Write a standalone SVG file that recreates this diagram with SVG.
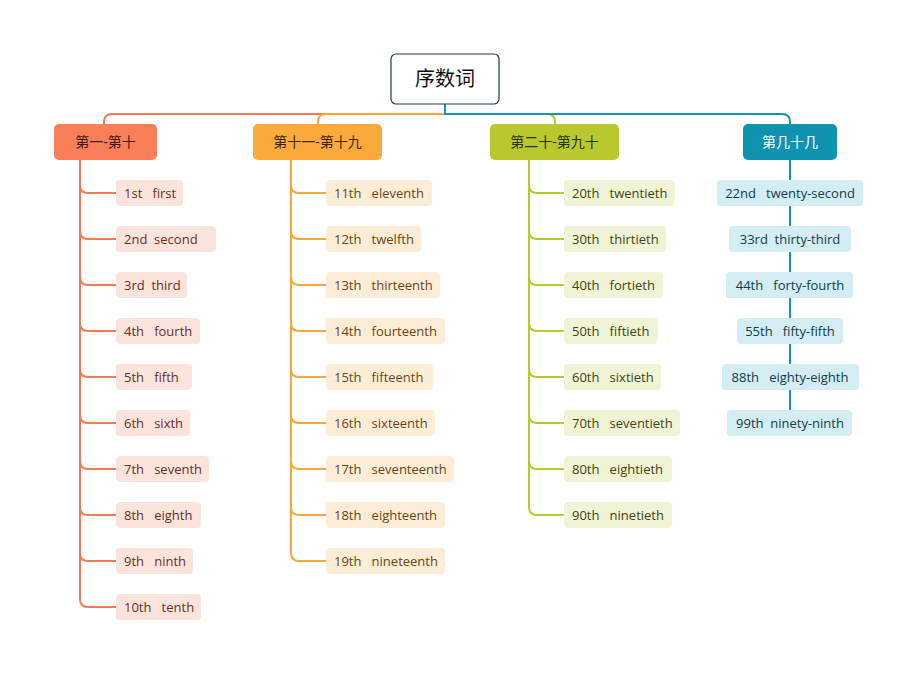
<svg xmlns="http://www.w3.org/2000/svg" width="917" height="675" viewBox="0 0 917 675">
<style>
text{font-family:"Open Sans","Noto Sans CJK SC",sans-serif;font-size:13px;white-space:pre}
.c{fill:none;stroke-width:2}
.b1 rect{fill:#FCE4DD}.b1 text{fill:#6B2E1E}
.b2 rect{fill:#FDEDD6}.b2 text{fill:#6B4414}
.b3 rect{fill:#F0F3D6}.b3 text{fill:#3F4510}
.b4 rect{fill:#D4ECF3}.b4 text{fill:#0F3F4C;text-anchor:middle}
.h text{font-size:14px;text-anchor:middle}
</style>
<rect width="917" height="675" fill="#fff"/>
<g id="connectors">
<path class="c" stroke="#EF7B57" d="M445 104V114H112Q104 114 104 122V124"/>
<path class="c" stroke="#F5A93C" d="M445 114H326Q318 114 318 122V124"/>
<path class="c" stroke="#B9C830" d="M445 114H547Q555 114 555 122V124"/>
<path class="c" stroke="#1A93AF" d="M445 104V114H782Q790 114 790 122V124"/>
<g stroke="#EF7B57" class="c">
<path d="M80 160V599Q80 607 88 607H116"/>
<path d="M80 185Q80 193 88 193H116M80 231Q80 239 88 239H116M80 277Q80 285 88 285H116M80 323Q80 331 88 331H116M80 369Q80 377 88 377H116M80 415Q80 423 88 423H116M80 461Q80 469 88 469H116M80 507Q80 515 88 515H116M80 553Q80 561 88 561H116"/>
</g>
<g stroke="#F5A93C" class="c">
<path d="M291 160V553Q291 561 299 561H326"/>
<path d="M291 185Q291 193 299 193H326M291 231Q291 239 299 239H326M291 277Q291 285 299 285H326M291 323Q291 331 299 331H326M291 369Q291 377 299 377H326M291 415Q291 423 299 423H326M291 461Q291 469 299 469H326M291 507Q291 515 299 515H326"/>
</g>
<g stroke="#B9C830" class="c">
<path d="M529 160V507Q529 515 537 515H564"/>
<path d="M529 185Q529 193 537 193H564M529 231Q529 239 537 239H564M529 277Q529 285 537 285H564M529 323Q529 331 537 331H564M529 369Q529 377 537 377H564M529 415Q529 423 537 423H564M529 461Q529 469 537 469H564"/>
</g>
<path class="c" stroke="#1A93AF" d="M790 160V410"/>
</g>
<g id="root"><rect x="391" y="54" width="108" height="50" rx="5" fill="#fff" stroke="#1F3B5C" stroke-width="1.2"/><text x="445" y="86" text-anchor="middle" style="font-size:20px" fill="#111">序数词</text></g>
<g id="h1" class="h"><rect x="54" y="124" width="103" height="36" rx="5" fill="#F97F58"/><text x="105.5" y="147" fill="#3a1a10">第一-第十</text></g>
<g id="h2" class="h"><rect x="253" y="124" width="129" height="36" rx="5" fill="#F9AA3A"/><text x="317.5" y="147" fill="#3a250a">第十一-第十九</text></g>
<g id="h3" class="h"><rect x="490" y="124" width="129" height="36" rx="5" fill="#B8C82E"/><text x="554.5" y="147" fill="#2a300a">第二十-第九十</text></g>
<g id="h4" class="h"><rect x="743" y="124" width="94" height="36" rx="5" fill="#0F93B1"/><text x="790" y="147" fill="#fff">第几十几</text></g>
<g class="b1">
<g id="n1"><rect x="116" y="180" width="67" height="26" rx="4"/><text x="124" y="198">1st   first</text></g>
<g id="n2"><rect x="116" y="226" width="100" height="26" rx="4"/><text x="124" y="244">2nd  second</text></g>
<g id="n3"><rect x="116" y="272" width="71" height="26" rx="4"/><text x="124" y="290">3rd  third</text></g>
<g id="n4"><rect x="116" y="318" width="84" height="26" rx="4"/><text x="124" y="336">4th   fourth</text></g>
<g id="n5"><rect x="116" y="364" width="76" height="26" rx="4"/><text x="124" y="382">5th   fifth</text></g>
<g id="n6"><rect x="116" y="410" width="74" height="26" rx="4"/><text x="124" y="428">6th   sixth</text></g>
<g id="n7"><rect x="116" y="456" width="93" height="26" rx="4"/><text x="124" y="474">7th   seventh</text></g>
<g id="n8"><rect x="116" y="502" width="85" height="26" rx="4"/><text x="124" y="520">8th   eighth</text></g>
<g id="n9"><rect x="116" y="548" width="77" height="26" rx="4"/><text x="124" y="566">9th   ninth</text></g>
<g id="n10"><rect x="116" y="594" width="85" height="26" rx="4"/><text x="124" y="612">10th   tenth</text></g>
</g>
<g class="b2">
<g id="n11"><rect x="326" y="180" width="106" height="26" rx="4"/><text x="334" y="198">11th   eleventh</text></g>
<g id="n12"><rect x="326" y="226" width="95" height="26" rx="4"/><text x="334" y="244">12th   twelfth</text></g>
<g id="n13"><rect x="326" y="272" width="114" height="26" rx="4"/><text x="334" y="290">13th   thirteenth</text></g>
<g id="n14"><rect x="326" y="318" width="119" height="26" rx="4"/><text x="334" y="336">14th   fourteenth</text></g>
<g id="n15"><rect x="326" y="364" width="107" height="26" rx="4"/><text x="334" y="382">15th   fifteenth</text></g>
<g id="n16"><rect x="326" y="410" width="109" height="26" rx="4"/><text x="334" y="428">16th   sixteenth</text></g>
<g id="n17"><rect x="326" y="456" width="128" height="26" rx="4"/><text x="334" y="474">17th   seventeenth</text></g>
<g id="n18"><rect x="326" y="502" width="119" height="26" rx="4"/><text x="334" y="520">18th   eighteenth</text></g>
<g id="n19"><rect x="326" y="548" width="119" height="26" rx="4"/><text x="334" y="566">19th   nineteenth</text></g>
</g>
<g class="b3">
<g id="n20"><rect x="564" y="180" width="111" height="26" rx="4"/><text x="572" y="198">20th   twentieth</text></g>
<g id="n30"><rect x="564" y="226" width="102" height="26" rx="4"/><text x="572" y="244">30th   thirtieth</text></g>
<g id="n40"><rect x="564" y="272" width="99" height="26" rx="4"/><text x="572" y="290">40th   fortieth</text></g>
<g id="n50"><rect x="564" y="318" width="94" height="26" rx="4"/><text x="572" y="336">50th   fiftieth</text></g>
<g id="n60"><rect x="564" y="364" width="97" height="26" rx="4"/><text x="572" y="382">60th   sixtieth</text></g>
<g id="n70"><rect x="564" y="410" width="116" height="26" rx="4"/><text x="572" y="428">70th   seventieth</text></g>
<g id="n80"><rect x="564" y="456" width="108" height="26" rx="4"/><text x="572" y="474">80th   eightieth</text></g>
<g id="n90"><rect x="564" y="502" width="108" height="26" rx="4"/><text x="572" y="520">90th   ninetieth</text></g>
</g>
<g class="b4">
<g id="n22"><rect x="717" y="180" width="146" height="26" rx="4"/><text x="790" y="198">22nd   twenty-second</text></g>
<g id="n33"><rect x="729" y="226" width="122" height="26" rx="4"/><text x="790" y="244">33rd  thirty-third</text></g>
<g id="n44"><rect x="726" y="272" width="127" height="26" rx="4"/><text x="790" y="290">44th   forty-fourth</text></g>
<g id="n55"><rect x="737" y="318" width="106" height="26" rx="4"/><text x="790" y="336">55th   fifty-fifth</text></g>
<g id="n88"><rect x="722" y="364" width="137" height="26" rx="4"/><text x="790" y="382">88th   eighty-eighth</text></g>
<g id="n99"><rect x="727" y="410" width="125" height="26" rx="4"/><text x="790" y="428">99th  ninety-ninth</text></g>
</g>
</svg>
